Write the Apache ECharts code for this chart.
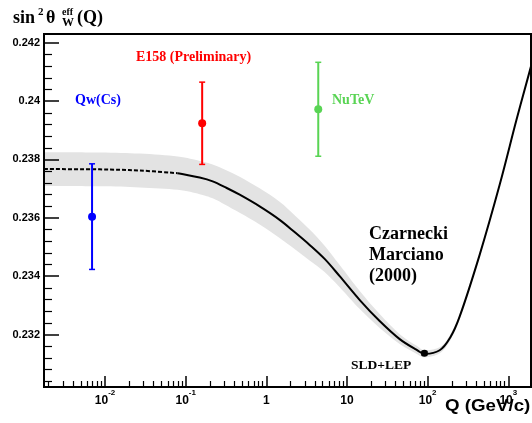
<!DOCTYPE html>
<html><head><meta charset="utf-8">
<script src="https://cdn.jsdelivr.net/npm/echarts@6/dist/echarts.min.js"></script>
<style>html,body{margin:0;padding:0;background:#fff}#c{width:532px;height:423px}</style>
</head><body><div id="c"></div>
<script>
// Theory curve: sin^2 theta_W^eff (Q), Czarnecki & Marciano (2000)
const curveQ   = [0.00175, 0.00858, 0.0269, 0.0795, 0.149, 0.216, 0.313, 0.467, 0.826, 1.46, 2.24, 3.44, 5.28, 8.11, 14.4, 25.4, 45.0, 72.4, 91.8, 141, 187, 249, 441, 781, 1258, 1911];
const curveS2W = [0.23767, 0.23766, 0.23762, 0.23753, 0.23738, 0.23725, 0.23704, 0.23679, 0.23639, 0.23593, 0.23551, 0.23507, 0.23459, 0.23400, 0.23318, 0.23246, 0.23184, 0.23148, 0.23134, 0.23146, 0.23186, 0.23261, 0.23473, 0.23713, 0.23934, 0.24119];
const curveErr = [0.00058, 0.00058, 0.00058, 0.00057, 0.00057, 0.00058, 0.00060, 0.00062, 0.00062, 0.00062, 0.00058, 0.00053, 0.00045, 0.00038, 0.00031, 0.00024, 0.00017, 0.00014, 0.00012, 0.00010, 0.00010, 0.00009, 0.00007, 0.00005, 0.00003, 0.00003];
const dashedEndIndex = 3;   // curve is dashed up to Q ~ 0.08

// Measurements
const expNames  = ['Qw(Cs)', 'E158 (Preliminary)', 'NuTeV', 'SLD+LEP'];
const expQ      = [0.0069, 0.16, 4.4, 91.19];
const expS2W    = [0.23604, 0.23924, 0.23972, 0.23136];
const expErr    = [0.00181, 0.00141, 0.00161, 0.00006];
const expColors = ['#0000ff', '#ff0000', '#59d454', '#000000'];

// Axes
const xTickValues = [0.01, 0.1, 1, 10, 100, 1000];
const xTickLabels = ['{b|10}{s|-2}', '{b|10}{s|-1}', '{b|1}', '{b|10}{s|}', '{b|10}{s|2}', '{b|10}{s|3}'];
const xMinorTicks = [0.002,0.003,0.004,0.005,0.006,0.007,0.008,0.009,
  0.02,0.03,0.04,0.05,0.06,0.07,0.08,0.09,
  0.2,0.3,0.4,0.5,0.6,0.7,0.8,0.9,
  2,3,4,5,6,7,8,9, 20,30,40,50,60,70,80,90, 200,300,400,500,600,700,800,900];
const yTickValues = [0.232, 0.234, 0.236, 0.238, 0.24, 0.242];
const yTickLabels = ['0.232', '0.234', '0.236', '0.238', '0.24', '0.242'];
const yMinorTicks = [0.2304,0.2308,0.2312,0.2316, 0.2324,0.2328,0.2332,0.2336, 0.2344,0.2348,0.2352,0.2356,
  0.2364,0.2368,0.2372,0.2376, 0.2384,0.2388,0.2392,0.2396, 0.2404,0.2408,0.2412,0.2416];
const xMin = 0.00175, xMax = 1911, yMin = 0.2302, yMax = 0.2423;

function pick(vals, labels, v) {
  let best = 0, bd = Infinity;
  vals.forEach((t, i) => { const d = Math.abs(v - t) / t; if (d < bd) { bd = d; best = i; } });
  return labels[best];
}

const SANS = 'Liberation Sans';

// Catmull-Rom spline through pixel points -> bezier segments
function splineSegs(p) {
  let d = '';
  for (let i = 0; i < p.length - 1; i++) {
    const p0 = p[i - 1] || p[i], p1 = p[i], p2 = p[i + 1], p3 = p[i + 2] || p[i + 1];
    const c1x = p1[0] + (p2[0] - p0[0]) / 6, c1y = p1[1] + (p2[1] - p0[1]) / 6;
    const c2x = p2[0] - (p3[0] - p1[0]) / 6, c2y = p2[1] - (p3[1] - p1[1]) / 6;
    d += ' C' + c1x + ',' + c1y + ' ' + c2x + ',' + c2y + ' ' + p2[0] + ',' + p2[1];
  }
  return d;
}

const curveData = curveQ.map((q, i) => [q, curveS2W[i], curveErr[i]]);

function theorySeries() {
  return {
    type: 'custom', name: 'Czarnecki Marciano (2000)', xAxisIndex: 0, yAxisIndex: 0, z: 2, clip: true,
    data: curveData, silent: true,
    renderItem: function (params, api) {
      if (params.dataIndex !== 0) return { type: 'group', children: [] };
      const mid = curveData.map(d => api.coord([d[0], d[1]]));
      const hi = curveData.map(d => api.coord([d[0], d[1] + d[2]]));
      const lo = curveData.map(d => api.coord([d[0], d[1] - d[2]])).reverse();
      const band = 'M' + hi[0][0] + ',' + hi[0][1] + splineSegs(hi) +
        ' L' + lo[0][0] + ',' + lo[0][1] + splineSegs(lo) + ' Z';
      const dashPts = mid.slice(0, dashedEndIndex + 1);
      const solidPts = mid.slice(dashedEndIndex);
      const dashPath = 'M' + dashPts[0][0] + ',' + dashPts[0][1] + splineSegs(dashPts);
      const solidPath = 'M' + solidPts[0][0] + ',' + solidPts[0][1] + splineSegs(solidPts);
      return { type: 'group', children: [
        { type: 'path', shape: { pathData: band }, style: { fill: '#e3e3e3', stroke: null } },
        { type: 'path', shape: { pathData: dashPath }, style: { fill: null, stroke: '#000', lineWidth: 2, lineDash: [4, 2] } },
        { type: 'path', shape: { pathData: solidPath }, style: { fill: null, stroke: '#000', lineWidth: 2 } }
      ]};
    }
  };
}

function errSeries(i) {
  return {
    type: 'custom', xAxisIndex: 0, yAxisIndex: 0, z: 10, clip: false,
    name: expNames[i],
    data: [[expQ[i], expS2W[i], expS2W[i] - expErr[i], expS2W[i] + expErr[i]]],
    renderItem: function (params, api) {
      const c = api.coord([api.value(0), api.value(1)]);
      const lo = api.coord([api.value(0), api.value(2)]);
      const hi = api.coord([api.value(0), api.value(3)]);
      const col = expColors[i];
      const cap = 3;
      const r = i === 3 ? 3.5 : 4;
      return { type: 'group', children: [
        { type: 'line', shape: { x1: lo[0], y1: lo[1], x2: hi[0], y2: hi[1] }, style: { stroke: col, lineWidth: 2 } },
        { type: 'line', shape: { x1: lo[0] - cap, y1: lo[1], x2: lo[0] + cap, y2: lo[1] }, style: { stroke: col, lineWidth: 1.5 } },
        { type: 'line', shape: { x1: hi[0] - cap, y1: hi[1], x2: hi[0] + cap, y2: hi[1] }, style: { stroke: col, lineWidth: 1.5 } },
        { type: 'circle', shape: { cx: c[0], cy: c[1], r: r }, style: { fill: col } }
      ]};
    }
  };
}

const chart = echarts.init(document.getElementById('c'), null, { renderer: 'canvas' });
chart.setOption({
  animation: false,
  backgroundColor: '#fff',
  grid: { left: 44, right: 1, top: 34, bottom: 36, show: true, borderColor: '#000', borderWidth: 2, z: 5, backgroundColor: 'transparent' },
  xAxis: [{
    type: 'log', logBase: 10, min: xMin, max: xMax, position: 'bottom', z: 5,
    axisLine: { show: false },
    splitLine: { show: false },
    axisTick: { show: true, inside: true, length: 11, customValues: xTickValues, lineStyle: { color: '#000', width: 1.5 } },
    axisLabel: {
      customValues: xTickValues, margin: 2, color: '#000',
      formatter: v => pick(xTickValues, xTickLabels, v),
      rich: {
        b: { fontFamily: SANS, fontWeight: 'bold', fontSize: 12, color: '#000', lineHeight: 18, verticalAlign: 'bottom' },
        s: { fontFamily: SANS, fontWeight: 'bold', fontSize: 8, color: '#000', lineHeight: 8, verticalAlign: 'top' }
      }
    }
  }, {
    type: 'log', logBase: 10, min: xMin, max: xMax, position: 'bottom', offset: 0, z: 5,
    axisLine: { show: false }, splitLine: { show: false }, axisLabel: { show: false },
    axisTick: { show: true, inside: true, length: 6, customValues: xMinorTicks, lineStyle: { color: '#000', width: 1.2 } }
  }],
  yAxis: [{
    type: 'value', min: yMin, max: yMax, position: 'left', z: 5,
    axisLine: { show: false }, splitLine: { show: false },
    axisTick: { show: true, inside: true, length: 15, customValues: yTickValues, lineStyle: { color: '#000', width: 1.5 } },
    axisLabel: {
      customValues: yTickValues, margin: 4, color: '#000', fontFamily: SANS, fontWeight: 'bold', fontSize: 11,
      formatter: v => pick(yTickValues, yTickLabels, v)
    }
  }, {
    type: 'value', min: yMin, max: yMax, position: 'left', offset: 0, z: 5,
    axisLine: { show: false }, splitLine: { show: false }, axisLabel: { show: false },
    axisTick: { show: true, inside: true, length: 8, customValues: yMinorTicks, lineStyle: { color: '#000', width: 1.2 } }
  }],
  series: [
    theorySeries(),
    errSeries(0), errSeries(1), errSeries(2), errSeries(3)
  ],
  graphic: [
    { type: 'text', left: 13, top: 9, z: 20, style: { text: 'sin', font: 'bold 18px "Liberation Serif"', fill: '#000' } },
    { type: 'text', left: 38, top: 7, z: 20, style: { text: '2', font: 'bold 11px "Liberation Serif"', fill: '#000' } },
    { type: 'text', left: 46, top: 9, z: 20, style: { text: 'θ', font: 'bold 18px "Liberation Serif"', fill: '#000' } },
    { type: 'text', left: 62, top: 7, z: 20, style: { text: 'eff', font: 'bold 10px "Liberation Serif"', fill: '#000' } },
    { type: 'text', left: 62, top: 17, z: 20, style: { text: 'W', font: 'bold 12px "Liberation Serif"', fill: '#000' } },
    { type: 'text', left: 77, top: 9, z: 20, style: { text: '(Q)', font: 'bold 18px "Liberation Serif"', fill: '#000' } },
    { type: 'text', x: 445, y: 399, scaleX: 1.17, z: 20, style: { text: 'Q (GeV/c)', font: 'bold 16px "Liberation Sans"', fill: '#000', verticalAlign: 'top' } },
    { type: 'text', left: 136, top: 50, z: 20, style: { text: expNames[1], font: 'bold 14px "Liberation Serif"', fill: expColors[1] } },
    { type: 'text', left: 75, top: 93, z: 20, style: { text: expNames[0], font: 'bold 14px "Liberation Serif"', fill: expColors[0] } },
    { type: 'text', left: 332, top: 93, z: 20, style: { text: expNames[2], font: 'bold 14px "Liberation Serif"', fill: expColors[2] } },
    { type: 'text', left: 351, top: 359, z: 20, style: { text: expNames[3], font: 'bold 13.5px "Liberation Serif"', fill: '#000' } },
    { type: 'text', left: 369, top: 224, z: 20, style: { text: 'Czarnecki\nMarciano\n(2000)', font: 'bold 18px "Liberation Serif"', lineHeight: 21, fill: '#000' } }
  ]
});
</script>
</body></html>
